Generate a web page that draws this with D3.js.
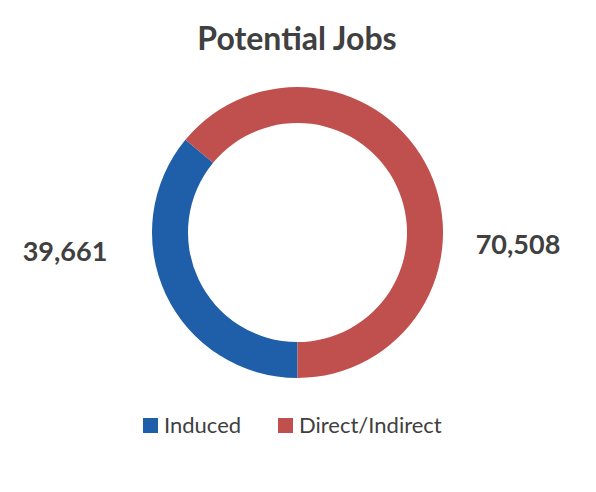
<!DOCTYPE html><html><head><meta charset="utf-8"><script src="https://cdn.jsdelivr.net/npm/d3@7"></script>
<style>body{margin:0;background:#fff}</style></head><body><svg id="c" width="596" height="492"></svg>
<script>
const categories=["Induced","Direct/Indirect"];
const values=[39661,70508];
const colors=["#1f5ea8","#c0504d"];
const svg=d3.select("#c");
const font="Lato, 'Open Sans', sans-serif";
svg.append("text").attr("x",297).attr("y",50).attr("text-anchor","middle").attr("font-family",font).attr("font-weight","bold").attr("font-size",32).attr("fill","#404040").text("Potential Jobs");
const cx=297.5,cy=232.5;
const pie=d3.pie().sort(null).startAngle(Math.PI).endAngle(3*Math.PI);
const arc=d3.arc().innerRadius(109.5).outerRadius(145.5);
const g=svg.append("g").attr("transform",`translate(${cx},${cy})`);
const arcs=pie(values);
g.selectAll("path").data(arcs).join("path").attr("d",arc).attr("fill",(d,i)=>colors[i]);
const fmt=d3.format(",");
const labelPos=[[65,252],[518,245]];
svg.selectAll("text.v").data(values).join("text").attr("class","v").attr("x",(d,i)=>labelPos[i][0]).attr("y",(d,i)=>labelPos[i][1]+9).attr("text-anchor","middle").attr("font-family",font).attr("font-weight","bold").attr("font-size",27).attr("fill","#404040").text(d=>fmt(d));
const leg=[[143],[278]];
categories.forEach((c,i)=>{
 svg.append("rect").attr("x",leg[i][0]).attr("y",418).attr("width",15).attr("height",15).attr("fill",colors[i]);
 svg.append("text").attr("x",leg[i][0]+21).attr("y",433).attr("font-family",font).attr("font-size",22).attr("fill","#404040").text(c);
});
</script></body></html>
